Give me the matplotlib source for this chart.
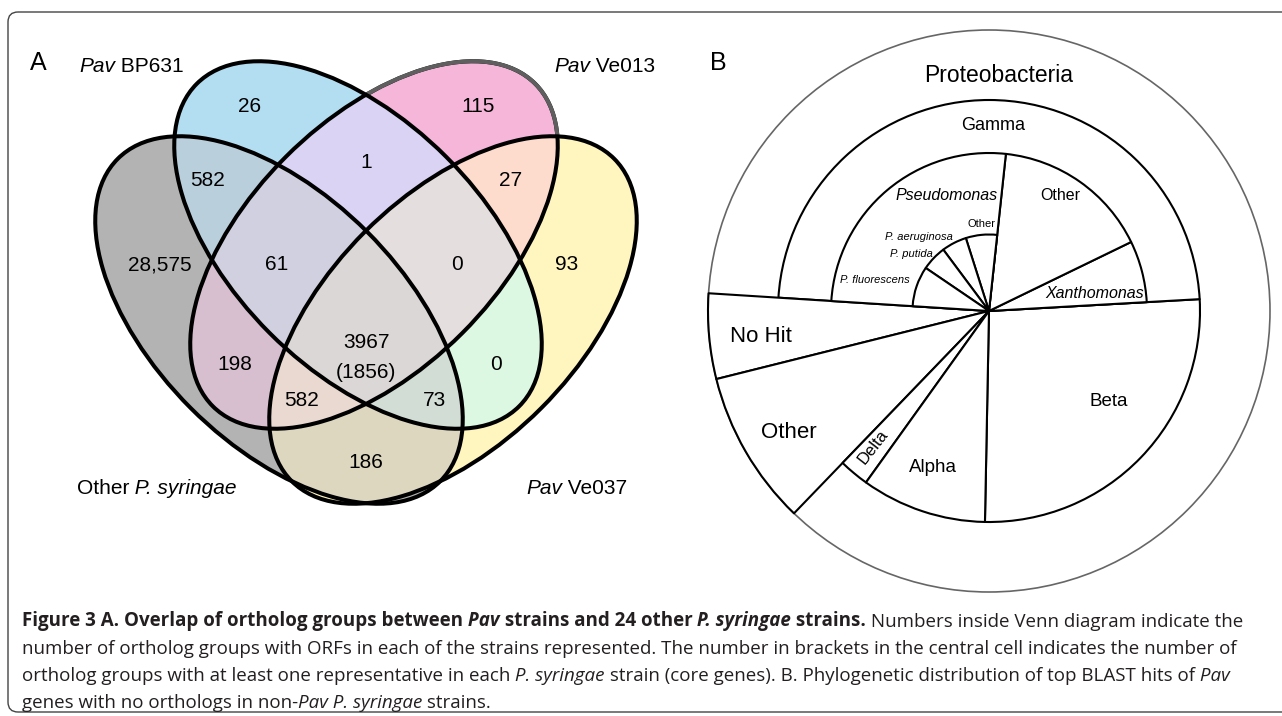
import numpy as np
import matplotlib.pyplot as plt
from matplotlib import font_manager
from matplotlib.colors import to_rgba
from matplotlib.patches import Ellipse, Wedge, Circle, FancyBboxPatch

# panel A: ortholog groups per Venn region
# G = other P. syringae, B = Pav BP631, P = Pav Ve013, Y = Pav Ve037
region_keys   = ["G", "B", "P", "Y", "GB", "GP", "GY", "BP", "BY", "PY",
                 "GBP", "GBY", "GPY", "BPY", "GBPY"]
region_counts = [28575, 26, 115, 93, 582, 198, 186, 1, 0, 27, 61, 73, 582, 0, 3967]
core_count    = 1856

# panel B: share (%) of top BLAST hits, counter-clockwise from Beta
top_labels    = ["Beta", "Gamma", "No Hit", "Other", "Delta", "Alpha"]
top_values    = [26.2, 48.1, 4.9, 8.9, 2.3, 9.6]
gamma_labels  = ["Xanthomonas", "Other", "Pseudomonas"]
gamma_values  = [6.3, 16.1, 25.7]
pseudo_labels = ["Other", "P. aeruginosa", "P. putida", "P. fluorescens"]
pseudo_values = [6.6, 5.3, 5.3, 8.5]

names = {f.name for f in font_manager.fontManager.ttflist}
SANS = "Liberation Sans" if "Liberation Sans" in names else "DejaVu Sans"
CAP = "Open Sans" if "Open Sans" in names else SANS

fig = plt.figure(figsize=(12.82, 7.16), dpi=100)
ax = fig.add_axes([0, 0, 1, 1])
ax.axis("off")

# frame
ax.add_patch(FancyBboxPatch((8, 12), 1400, 700, boxstyle="round,pad=0,rounding_size=10",
                            fc="none", ec="#444444", lw=1.0, zorder=0))

# ---------------- panel A ----------------
ell = {"G": (279, 320, 45), "B": (358, 245, 45), "P": (374, 245, -45), "Y": (453, 320, -45)}
EA, EB = 228, 124.7
fill = {"G": "#B3B3B3", "B": "#B3DEF1", "P": "#F5B6D9", "Y": "#FFF5BF",
        "GB": "#BACFDC", "GP": "#D8BFCF", "GY": "#DDD8C0", "BP": "#DAD4F3",
        "BY": "#DDF8E3", "PY": "#FEDCCD", "GBP": "#D2D0E0", "GBY": "#D3DDD6",
        "GPY": "#EBD9D0", "BPY": "#E5DFDF", "GBPY": "#DCD7D7"}
label_xy = {"G": (160, 265), "B": (250, 107), "P": (478, 107), "Y": (567, 265),
            "GB": (208, 180), "GP": (235, 364), "GY": (366, 462), "BP": (366, 163),
            "BY": (496, 365), "PY": (511, 180), "GBP": (277, 265), "GBY": (434, 400),
            "GPY": (302, 400), "BPY": (457, 265), "GBPY": (366, 343)}


def inside(k, X, Y):
    cx, cy, ang = ell[k]
    t = np.deg2rad(ang)
    u = (X - cx) * np.cos(t) + (Y - cy) * np.sin(t)
    v = -(X - cx) * np.sin(t) + (Y - cy) * np.cos(t)
    return (u / EA) ** 2 + (v / EB) ** 2 <= 1


xs = np.arange(60, 680, 0.5) + 0.25
ys = np.arange(30, 520, 0.5) + 0.25
X, Y = np.meshgrid(xs, ys)
code = np.zeros(X.shape, int)
for i, k in enumerate("GBPY"):
    code |= inside(k, X, Y).astype(int) << i
lut = np.zeros((16, 4))
for k in region_keys:
    lut[sum(1 << "GBPY".index(c) for c in k)] = to_rgba(fill[k])
ax.imshow(lut[code], extent=(60, 680, 520, 30), interpolation="antialiased", zorder=1)

for k in "GBPY":
    cx, cy, ang = ell[k]
    ax.add_patch(Ellipse((cx, cy), 2 * EA, 2 * EB, angle=ang, fill=False,
                         ec="black", lw=2.9, zorder=4 if k != "P" else 3))

# pink outline is grey where it lies outside the others
tt = np.linspace(0, 2 * np.pi, 721)
cx, cy, ang = ell["P"]
r = np.deg2rad(ang)
px = cx + EA * np.cos(tt) * np.cos(r) - EB * np.sin(tt) * np.sin(r)
py = cy + EA * np.cos(tt) * np.sin(r) + EB * np.sin(tt) * np.cos(r)
out = ~(inside("G", px, py) | inside("B", px, py) | inside("Y", px, py))
ax.plot(np.ma.masked_where(~out, px), np.ma.masked_where(~out, py),
        color="#5f5f5f", lw=2.9, zorder=3.5, solid_capstyle="butt")

for k, c in zip(region_keys, region_counts):
    x, y = label_xy[k]
    s = f"{c:,}" if c >= 10000 else str(c)
    ax.text(x, y, s, ha="center", va="center", fontsize=15, family=SANS, zorder=6)
ax.text(366, 372, f"({core_count})", ha="center", va="center", fontsize=15, family=SANS, zorder=6)


def rich(x, y, parts, size, family, color="black", va="center"):
    prev = None
    for txt, w, st in parts:
        kw = dict(fontsize=size, family=family, fontweight=w, fontstyle=st, color=color, zorder=6)
        if prev is None:
            prev = ax.text(x, y, txt, ha="left", va=va, **kw)
        else:
            prev = ax.annotate(txt, xy=(1, 0), xycoords=prev, ha="left", va="bottom", **kw)


rich(79, 66, [("Pav", "normal", "italic"), (" BP631", "normal", "normal")], 15, SANS)
rich(554, 66, [("Pav", "normal", "italic"), (" Ve013", "normal", "normal")], 15, SANS)
rich(77, 489, [("Other", "normal", "normal"), (" P. syringae", "normal", "italic")], 15, SANS)
rich(526, 489, [("Pav", "normal", "italic"), (" Ve037", "normal", "normal")], 15, SANS)
ax.text(38, 63, "A", ha="center", va="center", fontsize=18, family=SANS)

# ---------------- panel B ----------------
PCX, PCY = 989, 311
START = 268.9
deg = 360.0 / sum(top_values)


def wedge(rad, a1, a2, z):
    ax.add_patch(Wedge((PCX, PCY), rad, -a2, -a1, fc="white", ec="black", lw=1.5,
                       joinstyle="round", zorder=z))


ax.add_patch(Circle((PCX, PCY), 281, fill=False, ec="#666666", lw=1.2, zorder=4))
edges = START + deg * np.concatenate([[0], np.cumsum(top_values)])
for lab, a1, a2 in zip(top_labels, edges[:-1], edges[1:]):
    wedge(281 if lab in ("No Hit", "Other") else 211, a1, a2, 5)
    if lab == "Gamma":
        g0 = a1
g_edges = g0 + deg * np.concatenate([[0], np.cumsum(gamma_values)])
for lab, a1, a2 in zip(gamma_labels, g_edges[:-1], g_edges[1:]):
    wedge(158, a1, a2, 6)
    if lab == "Pseudomonas":
        p0 = a1
p_edges = p0 + deg * np.concatenate([[0], np.cumsum(pseudo_values)])
for a1, a2 in zip(p_edges[:-1], p_edges[1:]):
    wedge(76.5, a1, a2, 7)

btxt = [("Proteobacteria", 999, 75, 16.5, "normal", 0),
        ("Gamma", 993, 126, 13, "normal", 0),
        ("Pseudomonas", 947, 196, 11.5, "italic", 0),
        ("Other", 1060, 196, 11.5, "normal", 0),
        ("Xanthomonas", 1095, 293, 11.5, "italic", 0),
        ("Other", 982, 224, 8, "normal", 0),
        ("P. aeruginosa", 919, 237, 8, "italic", 0),
        ("P. putida", 911, 254, 8, "italic", 0),
        ("P. fluorescens", 875, 280, 8, "italic", 0),
        ("No Hit", 761, 337, 16, "normal", 0),
        ("Other", 789, 433, 16, "normal", 0),
        ("Delta", 873, 447, 12, "normal", 52),
        ("Alpha", 933, 468, 13.5, "normal", 0),
        ("Beta", 1109, 402, 13.5, "normal", 0)]
for s, x, y, fs, st, rot in btxt:
    ax.text(x, y, s, ha="center", va="center", fontsize=fs, fontstyle=st,
            rotation=rot, family=SANS, zorder=8)
ax.text(718, 63, "B", ha="center", va="center", fontsize=18, family=SANS)

# ---------------- caption ----------------
n, b, i = "normal", "bold", "italic"
CS = 13.5
CC = "#231F20"
rich(22, 626, [("Figure 3 A. Overlap of ortholog groups between", b, n), (" Pav", b, i),
               (" strains and 24 other", b, n), (" P. syringae", b, i), (" strains.", b, n),
               (" Numbers inside Venn diagram indicate the", n, n)], CS, CAP, CC, "baseline")
rich(22, 654, [("number of ortholog groups with ORFs in each of the strains represented. "
                "The number in brackets in the central cell indicates the number of", n, n)],
     CS, CAP, CC, "baseline")
rich(22, 681, [("ortholog groups with at least one representative in each", n, n),
               (" P. syringae", n, i),
               (" strain (core genes). B. Phylogenetic distribution of top BLAST hits of", n, n),
               (" Pav", n, i)], CS, CAP, CC, "baseline")
rich(22, 708, [("genes with no orthologs in non-", n, n), ("Pav P. syringae", n, i),
               (" strains.", n, n)], CS, CAP, CC, "baseline")

ax.set_aspect("auto")
ax.set_xlim(0, 1282)
ax.set_ylim(716, 0)
fig.savefig("out.png", dpi=100)
